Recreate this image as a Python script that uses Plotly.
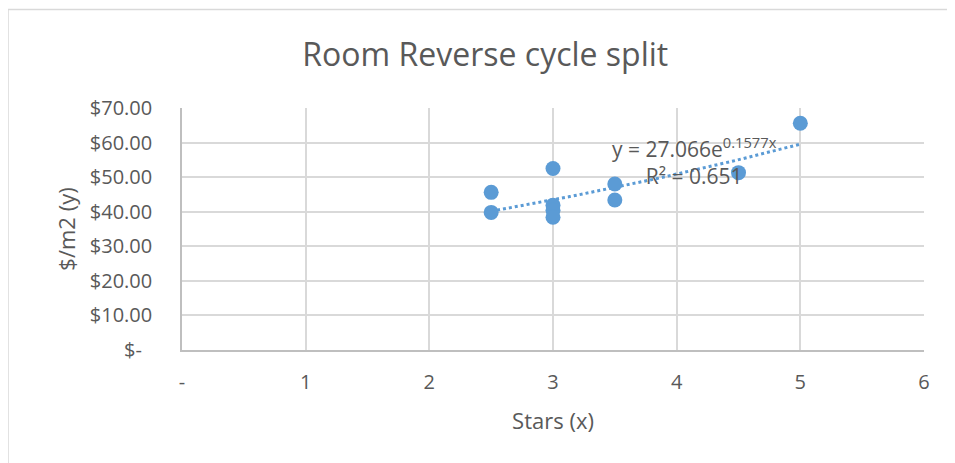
import numpy as np
import plotly.graph_objects as go

# Data
stars = [2.5, 2.5, 3, 3, 3, 3, 3.5, 3.5, 4.5, 5]
price = [45.6, 39.8, 52.5, 41.9, 40.4, 38.4, 48.0, 43.4, 51.3, 65.6]

# Exponential trendline as reported on the chart
trend_a = 27.066
trend_b = 0.1577
r_squared = 0.651

x_ticks = [0, 1, 2, 3, 4, 5, 6]
x_labels = ['-', '1', '2', '3', '4', '5', '6']
y_ticks = [0, 10, 20, 30, 40, 50, 60, 70]
y_labels = ['$-\u00a0\u00a0', '$10.00', '$20.00', '$30.00', '$40.00', '$50.00', '$60.00', '$70.00']

blue = '#5b9bd5'
grey_text = '#595959'
font_family = 'Open Sans, Noto Sans, sans-serif'

trend_x = np.linspace(min(stars), max(stars), 60)
trend_y = trend_a * np.exp(trend_b * trend_x)

fig = go.Figure()

fig.add_trace(go.Scatter(
    x=trend_x, y=trend_y, mode='lines',
    line=dict(color=blue, width=3, dash='dot'),
    hoverinfo='skip', showlegend=False
))

fig.add_trace(go.Scatter(
    x=stars, y=price, mode='markers',
    marker=dict(color=blue, size=15),
    showlegend=False
))

fig.add_annotation(
    x=4.148, y=54.8, xref='x', yref='y',
    text=f'y = {trend_a}e<sup>{trend_b}x</sup><br>R² = {r_squared}',
    showarrow=False, align='center',
    font=dict(family=font_family, size=21, color=grey_text)
)

# outer chart border (page has an 8px body margin)
fig.add_shape(
    type='rect', xref='paper', yref='paper',
    x0=(0 - 174) / 742, x1=1.2, y0=-0.7, y1=(342 - 1.5) / 242,
    line=dict(color='#d9d9d9', width=1.5), layer='below'
)

fig.update_layout(
    width=947, height=455,
    paper_bgcolor='white', plot_bgcolor='white',
    margin=dict(l=174, r=31, t=100, b=113),
    title=dict(text='Room Reverse cycle split', x=0.504, xanchor='center',
               y=0.897, yanchor='middle',
               font=dict(family=font_family, size=32, color=grey_text)),
    font=dict(family=font_family, color=grey_text),
)

fig.update_xaxes(
    range=[0, 6], tickvals=x_ticks, ticktext=x_labels,
    showgrid=True, gridcolor='#d9d9d9', gridwidth=1.5,
    showline=True, linecolor='#bfbfbf', linewidth=1.5,
    zeroline=False, ticks='', ticklabelstandoff=13,
    tickfont=dict(size=20, color=grey_text),
    title=dict(text='Stars (x)', font=dict(size=22, color=grey_text), standoff=20)
)

fig.update_yaxes(
    range=[0, 70], tickvals=y_ticks, ticktext=y_labels,
    showgrid=True, gridcolor='#d9d9d9', gridwidth=1.5,
    showline=True, linecolor='#bfbfbf', linewidth=1.5,
    zeroline=False, ticks='', ticklabelstandoff=24,
    tickfont=dict(size=20, color=grey_text),
    title=dict(text='$/m2 (y)', font=dict(size=22, color=grey_text), standoff=8)
)

fig.write_html('out.html')
